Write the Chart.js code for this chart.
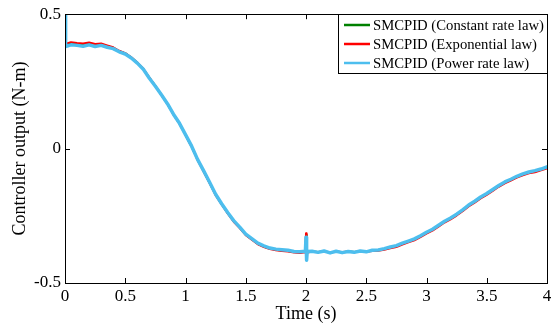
<!DOCTYPE html>
<html>
<head>
<meta charset="utf-8">
<script src="https://cdn.jsdelivr.net/npm/chart.js@4/dist/chart.umd.min.js"></script>
<style>
html,body{margin:0;padding:0;background:#fff;}
canvas{display:block;}
</style>
</head>
<body>
<canvas id="c" width="552" height="326"></canvas>
<script>
const times = [0, 0.005, 0.05, 0.1, 0.15, 0.2, 0.25, 0.3, 0.35, 0.4, 0.45, 0.5, 0.55, 0.6, 0.65, 0.7, 0.75, 0.8, 0.85, 0.9, 0.95, 1.0, 1.05, 1.1, 1.15, 1.2, 1.25, 1.3, 1.35, 1.4, 1.45, 1.5, 1.55, 1.6, 1.65, 1.7, 1.75, 1.8, 1.85, 1.9, 1.95, 1.995, 2.0, 2.005, 2.01, 2.05, 2.1, 2.15, 2.2, 2.25, 2.3, 2.35, 2.4, 2.45, 2.5, 2.55, 2.6, 2.65, 2.7, 2.75, 2.8, 2.85, 2.9, 2.95, 3.0, 3.05, 3.1, 3.15, 3.2, 3.25, 3.3, 3.35, 3.4, 3.45, 3.5, 3.55, 3.6, 3.65, 3.7, 3.75, 3.8, 3.85, 3.9, 3.95, 4.0];

const constantRate = [0.5, 0.385,
  0.392, 0.389, 0.387, 0.391, 0.385, 0.388, 0.381, 0.375, 0.362, 0.354,
  0.339, 0.319, 0.296, 0.263, 0.233, 0.200, 0.167, 0.128, 0.094, 0.051,
  0.009, -0.041, -0.083, -0.126, -0.171, -0.206, -0.239, -0.270, -0.294, -0.320,
  -0.337, -0.354, -0.364, -0.372, -0.376, -0.379, -0.381, -0.385, -0.386,
  -0.384, -0.320, -0.410, -0.385,
  -0.383, -0.385, -0.382, -0.387, -0.383, -0.386, -0.383, -0.385, -0.382, -0.384,
  -0.379, -0.378, -0.374, -0.368, -0.363, -0.354, -0.346, -0.338, -0.326, -0.313,
  -0.302, -0.287, -0.272, -0.260, -0.246, -0.230, -0.212, -0.198, -0.182, -0.169,
  -0.154, -0.139, -0.126, -0.116, -0.105, -0.096, -0.089, -0.085, -0.078, -0.071];

const exponential = [0.5, 0.39,
  0.396, 0.393, 0.391, 0.395, 0.389, 0.391, 0.384, 0.377, 0.364, 0.355,
  0.340, 0.320, 0.297, 0.264, 0.233, 0.200, 0.167, 0.127, 0.093, 0.050,
  0.008, -0.042, -0.085, -0.128, -0.173, -0.208, -0.241, -0.272, -0.296, -0.322,
  -0.339, -0.356, -0.366, -0.374, -0.378, -0.381, -0.383, -0.387, -0.388,
  -0.386, -0.315, -0.405, -0.387,
  -0.384, -0.385, -0.383, -0.386, -0.384, -0.385, -0.384, -0.385, -0.383, -0.384,
  -0.381, -0.380, -0.376, -0.371, -0.366, -0.357, -0.349, -0.341, -0.329, -0.316,
  -0.305, -0.290, -0.275, -0.263, -0.249, -0.233, -0.215, -0.201, -0.185, -0.172,
  -0.157, -0.142, -0.129, -0.119, -0.108, -0.099, -0.092, -0.088, -0.081, -0.074];

const powerRate = [0.5, 0.38,
  0.386, 0.384, 0.381, 0.386, 0.380, 0.384, 0.377, 0.372, 0.360, 0.352,
  0.337, 0.318, 0.295, 0.262, 0.232, 0.200, 0.167, 0.128, 0.094, 0.052,
  0.010, -0.040, -0.082, -0.125, -0.170, -0.205, -0.238, -0.268, -0.292, -0.318,
  -0.335, -0.352, -0.362, -0.370, -0.374, -0.376, -0.378, -0.383, -0.384,
  -0.382, -0.330, -0.415, -0.383,
  -0.382, -0.386, -0.381, -0.388, -0.382, -0.387, -0.383, -0.386, -0.381, -0.384,
  -0.378, -0.377, -0.372, -0.366, -0.361, -0.352, -0.344, -0.336, -0.324, -0.311,
  -0.300, -0.285, -0.270, -0.258, -0.244, -0.228, -0.210, -0.196, -0.180, -0.167,
  -0.152, -0.137, -0.124, -0.114, -0.103, -0.094, -0.087, -0.082, -0.076, -0.068];

const seriesLabels = ['SMCPID (Constant rate law)', 'SMCPID (Exponential law)', 'SMCPID (Power rate law)'];
const xTicks = [0, 0.5, 1, 1.5, 2, 2.5, 3, 3.5, 4];
const xTickLabels = ['0', '0.5', '1', '1.5', '2', '2.5', '3', '3.5', '4'];
const yTicks = [-0.5, 0, 0.5];
const yTickLabels = ['-0.5', '0', '0.5'];

const FONT = 'Liberation Serif, "Times New Roman", serif';

function pts(arr){ return times.map((t,i)=>({x:t, y:arr[i]})); }

const framePlugin = {
  id: 'frame',
  afterDatasetsDraw(chart){
    const {ctx, chartArea:a, scales} = chart;
    ctx.save();
    ctx.strokeStyle = '#000';
    ctx.lineWidth = 1;
    ctx.strokeRect(Math.round(a.left)+0.5, Math.round(a.top)+0.5, Math.round(a.right-a.left), Math.round(a.bottom-a.top));
    const L = 5;
    ctx.beginPath();
    xTicks.forEach(v=>{
      const px = Math.round(scales.x.getPixelForValue(v))+0.5;
      ctx.moveTo(px, a.bottom); ctx.lineTo(px, a.bottom-L);
      ctx.moveTo(px, a.top); ctx.lineTo(px, a.top+L);
    });
    yTicks.forEach(v=>{
      const py = Math.round(scales.y.getPixelForValue(v))+0.5;
      ctx.moveTo(a.left, py); ctx.lineTo(a.left+L, py);
      ctx.moveTo(a.right, py); ctx.lineTo(a.right-L, py);
    });
    ctx.stroke();
    // legend
    const w = 209, h = 59;
    const lx = Math.round(a.right) - w, ly = Math.round(a.top);
    ctx.fillStyle = '#fff';
    ctx.fillRect(lx, ly, w, h);
    ctx.strokeRect(lx+0.5, ly+0.5, w, h);
    ctx.font = '14.7px ' + FONT;
    ctx.textBaseline = 'middle';
    ctx.textAlign = 'left';
    chart.data.datasets.forEach((ds,i)=>{
      const y = ly + 11 + i*19;
      ctx.strokeStyle = ds.borderColor;
      ctx.lineWidth = 2.5;
      ctx.beginPath(); ctx.moveTo(lx+6, y); ctx.lineTo(lx+32, y); ctx.stroke();
      ctx.fillStyle = '#000';
      ctx.fillText(ds.label, lx+35, y+1);
    });
    ctx.restore();
  }
};

const bgPlugin = {
  id: 'bg',
  beforeDraw(chart){
    const ctx = chart.ctx;
    ctx.save(); ctx.fillStyle = '#fff'; ctx.fillRect(0,0,chart.width,chart.height); ctx.restore();
  }
};

new Chart(document.getElementById('c'), {
  type: 'line',
  data: {
    datasets: [
      {label: seriesLabels[0], data: pts(constantRate), borderColor: '#008000', borderWidth: 2, order: 3},
      {label: seriesLabels[1], data: pts(exponential), borderColor: '#ff0000', borderWidth: 2, order: 2},
      {label: seriesLabels[2], data: pts(powerRate), borderColor: '#4dbeee', borderWidth: 3.5, order: 1}
    ]
  },
  options: {
    responsive: false,
    animation: false,
    devicePixelRatio: 1,
    layout: {padding: {top: 13, right: 0, left: 0, bottom: 0}},
    elements: {point: {radius: 0}, line: {tension: 0, borderJoinStyle: 'round', borderCapStyle: 'round'}},
    plugins: {legend: {display: false}, tooltip: {enabled: false}},
    scales: {
      x: {
        type: 'linear', min: 0, max: 4,
        afterBuildTicks(s){ s.ticks = xTicks.map(v=>({value:v})); },
        afterFit(s){ s.height = 43; s.paddingRight = 5; s.paddingLeft = 0; },
        grid: {display: false, drawTicks: false},
        border: {display: false},
        ticks: {
          color: '#000', padding: 3, maxRotation: 0, autoSkip: false,
          font: {family: FONT, size: 17},
          callback: (v, i) => xTickLabels[i]
        },
        title: {display: true, text: 'Time (s)', color: '#000', font: {family: FONT, size: 18}, padding: {top: 0, bottom: 1}}
      },
      y: {
        type: 'linear', min: -0.5, max: 0.5,
        afterBuildTicks(s){ s.ticks = yTicks.map(v=>({value:v})); },
        afterFit(s){ s.width = 65; },
        grid: {display: false, drawTicks: false},
        border: {display: false},
        ticks: {
          color: '#000', padding: 4, autoSkip: false,
          font: {family: FONT, size: 17},
          callback: (v, i) => yTickLabels[i]
        },
        title: {display: true, text: 'Controller output (N-m)', color: '#000', font: {family: FONT, size: 18}, padding: {top: 9, bottom: 0}}
      }
    }
  },
  plugins: [bgPlugin, framePlugin]
});
</script>
</body>
</html>
